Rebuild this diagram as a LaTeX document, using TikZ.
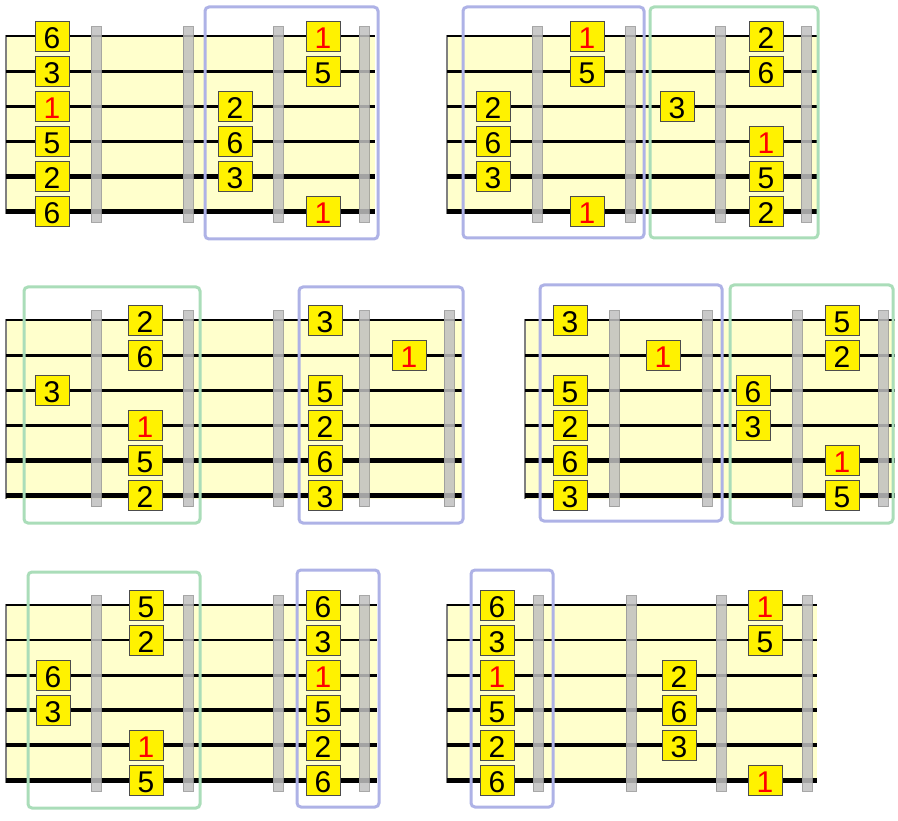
\documentclass[tikz,border=0pt]{standalone}
\usepackage{fontspec}
\setmainfont{Liberation Sans}
\definecolor{boardyellow}{HTML}{FFFFCC}
\definecolor{fretgrey}{HTML}{C0C0C0}
\definecolor{fretedge}{HTML}{999999}
\definecolor{boxblue}{HTML}{AEB2E6}
\definecolor{boxgreen}{HTML}{AADDB9}
\tikzset{
  board/.style={fill=boardyellow},
  nut/.style={draw=gray, line width=2pt},
  fretbar/.style={fill=fretgrey, draw=fretedge, line width=1pt, opacity=.85},
  note/.style={draw=black!70, fill=yellow, line width=.8pt, minimum width=34pt,
    minimum height=30pt, inner sep=0pt, text height=24pt, text depth=0pt,
    font=\fontsize{30}{30}\selectfont},
  root/.style={note, text=red},
  bluebox/.style={draw=boxblue, line width=3pt, rounded corners=4pt},
  greenbox/.style={draw=boxgreen, line width=3pt, rounded corners=4pt}
}
% board of six strings: length, fret positions
\newcommand{\fretboard}[2]{
  \fill[board] (0,-1) rectangle (#1,178);
  \draw[nut] (0,-1) -- (0,178);
  \foreach \s/\w in {0/2,1/2.4,2/3,3/3.6,4/4.2,5/5}
    \draw[line width=\w pt] (0,\s*35) -- (#1,\s*35);
  \foreach \f in {#2}
    \draw[fretbar] (\f-5,-9.5) rectangle (\f+5,186);
}
\begin{document}
\begin{tikzpicture}[x=1pt, y=-1pt]
\useasboundingbox (0,0) rectangle (898,821);

% top left
\begin{scope}[shift={(6,36.5)}]
\fretboard{369}{90,182,272,358}
\node[note] (a01) at (46,0){6};
\node[note] (a02) at (46,35){3};
\node[root] (a03) at (46,70){1};
\node[note] (a04) at (46,105){5};
\node[note] (a05) at (46,140){2};
\node[note] (a06) at (46,175){6};
\node[note] (a23) at (229,70){2};
\node[note] (a24) at (229,105){6};
\node[note] (a25) at (229,140){3};
\node[root] (a31) at (317,0){1};
\node[note] (a32) at (317,35){5};
\node[root] (a36) at (317,175){1};
\end{scope}
\draw[bluebox] (205,7) rectangle (378,239);

% top right
\begin{scope}[shift={(447,36.5)}]
\fretboard{371}{90,183,273,359}
\node[note] (b03) at (46,70){2};
\node[note] (b04) at (46,105){6};
\node[note] (b05) at (46,140){3};
\node[root] (b11) at (140,0){1};
\node[note] (b12) at (140,35){5};
\node[root] (b16) at (140,175){1};
\node[note] (b23) at (230,70){3};
\node[note] (b31) at (319,0){2};
\node[note] (b32) at (319,35){6};
\node[root] (b34) at (319,105){1};
\node[note] (b35) at (319,140){5};
\node[note] (b36) at (319,175){2};
\end{scope}
\draw[bluebox] (463,7) rectangle (644,238);
\draw[greenbox] (650,7) rectangle (818,238);

% middle left
\begin{scope}[shift={(6,320.5)}]
\fretboard{456}{90,182,272,358,443}
\node[note] (c03) at (46,70){3};
\node[note] (c11) at (139,0){2};
\node[note] (c12) at (139,35){6};
\node[root] (c14) at (139,105){1};
\node[note] (c15) at (139,140){5};
\node[note] (c16) at (139,175){2};
\node[note] (c31) at (319,0){3};
\node[note] (c33) at (319,70){5};
\node[note] (c34) at (319,105){2};
\node[note] (c35) at (319,140){6};
\node[note] (c36) at (319,175){3};
\node[root] (c42) at (403,35){1};
\end{scope}
\draw[greenbox] (24,287) rectangle (200,523);
\draw[bluebox] (299,287) rectangle (463,523);

% middle right
\begin{scope}[shift={(525,320.5)}]
\fretboard{370}{89,182,272,358}
\node[note] (d01) at (45,0){3};
\node[note] (d03) at (45,70){5};
\node[note] (d04) at (45,105){2};
\node[note] (d05) at (45,140){6};
\node[note] (d06) at (45,175){3};
\node[root] (d12) at (138,35){1};
\node[note] (d23) at (228,70){6};
\node[note] (d24) at (228,105){3};
\node[note] (d31) at (317,0){5};
\node[note] (d32) at (317,35){2};
\node[root] (d35) at (317,140){1};
\node[note] (d36) at (317,175){5};
\end{scope}
\draw[bluebox] (540,285) rectangle (722,521);
\draw[greenbox] (730,285) rectangle (893,523);

% bottom left
\begin{scope}[shift={(6,605)}]
\fretboard{371}{90,182,272,358}
\node[note] (e03) at (47,70){6};
\node[note] (e04) at (47,105){3};
\node[note] (e11) at (140,0){5};
\node[note] (e12) at (140,35){2};
\node[root] (e15) at (140,140){1};
\node[note] (e16) at (140,175){5};
\node[note] (e31) at (317,0){6};
\node[note] (e32) at (317,35){3};
\node[root] (e33) at (317,70){1};
\node[note] (e34) at (317,105){5};
\node[note] (e35) at (317,140){2};
\node[note] (e36) at (317,175){6};
\end{scope}
\draw[greenbox] (28,572) rectangle (200,808);
\draw[bluebox] (297,570) rectangle (379,807);

% bottom right
\begin{scope}[shift={(447,605)}]
\fretboard{370}{91,184,274,360}
\node[note] (f01) at (50,0){6};
\node[note] (f02) at (50,35){3};
\node[root] (f03) at (50,70){1};
\node[note] (f04) at (50,105){5};
\node[note] (f05) at (50,140){2};
\node[note] (f06) at (50,175){6};
\node[note] (f23) at (232,70){2};
\node[note] (f24) at (232,105){6};
\node[note] (f25) at (232,140){3};
\node[root] (f31) at (318,0){1};
\node[note] (f32) at (318,35){5};
\node[root] (f36) at (318,175){1};
\end{scope}
\draw[bluebox] (471,570) rectangle (553,807);

\end{tikzpicture}
\end{document}
